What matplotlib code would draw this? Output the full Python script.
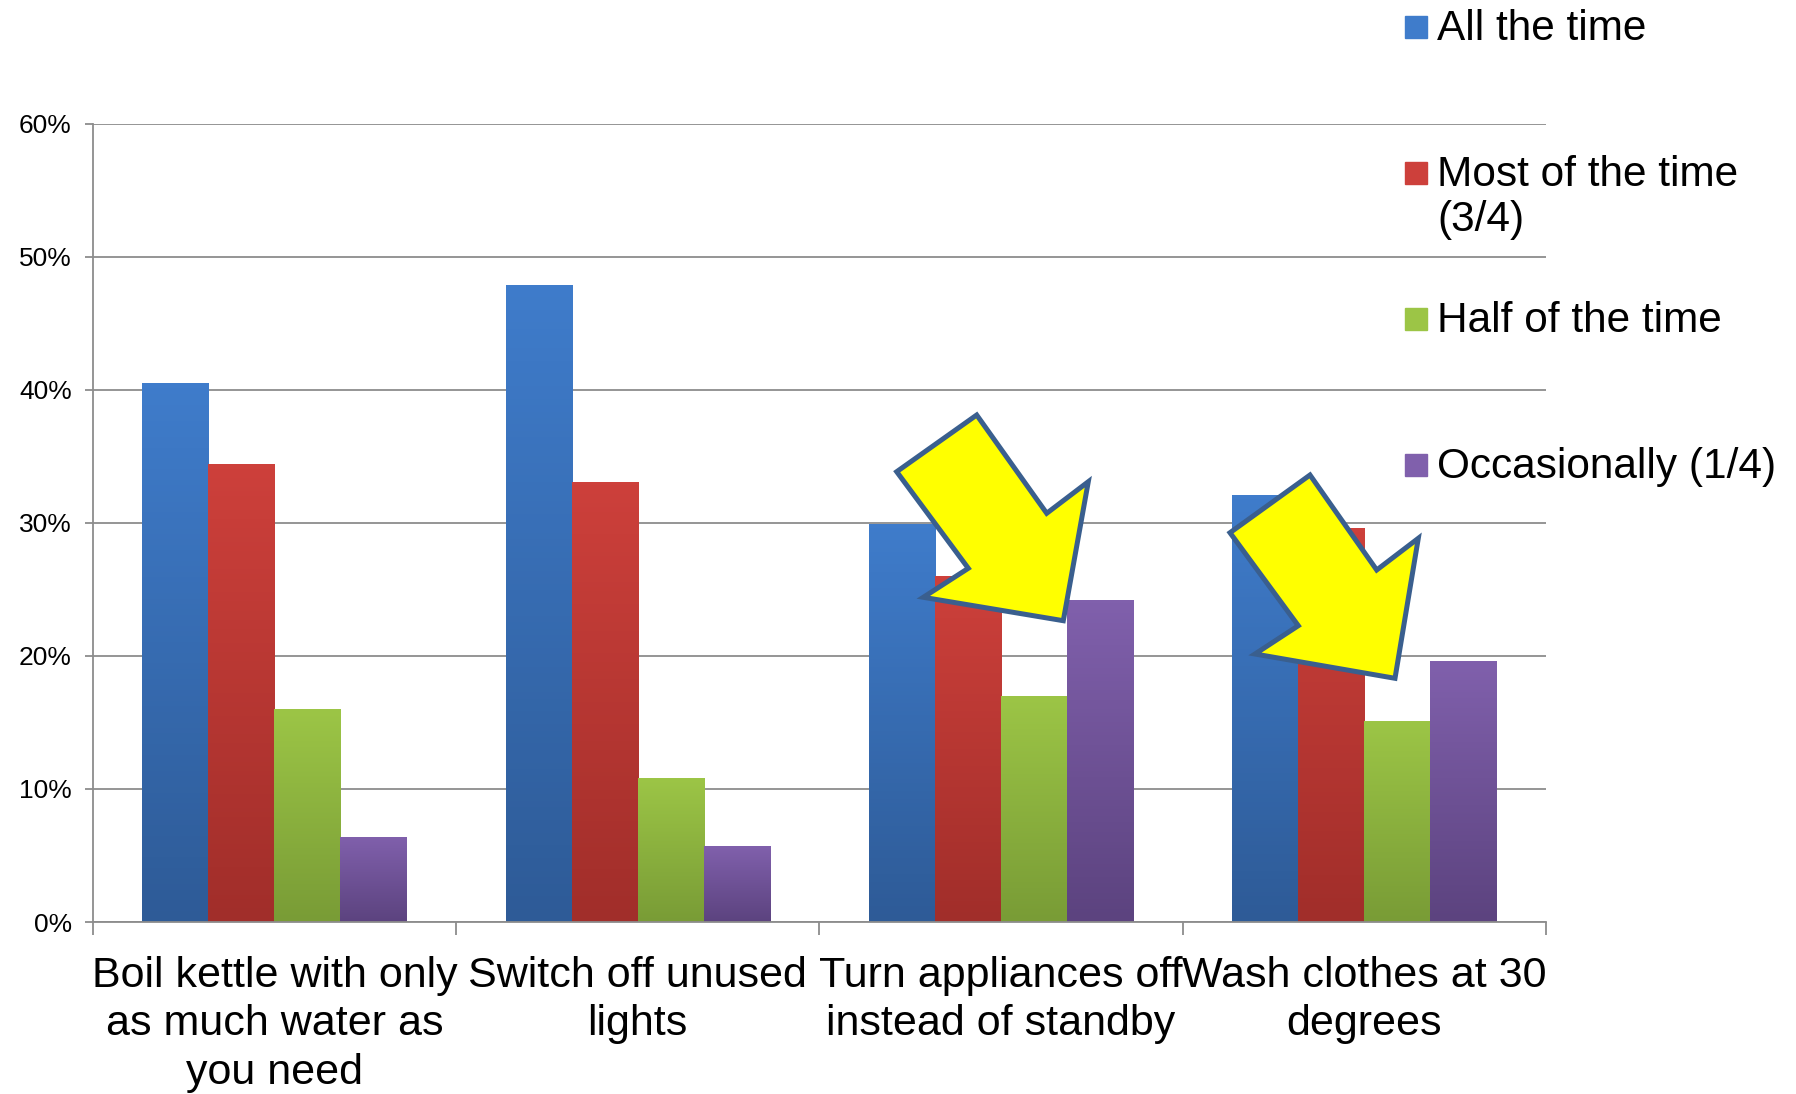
import numpy as np
import matplotlib
matplotlib.use("Agg")
import matplotlib.pyplot as plt
from matplotlib.colors import LinearSegmentedColormap
from matplotlib.patches import Polygon, Rectangle

plt.rcParams['font.family'] = ['Liberation Sans', 'DejaVu Sans']

# data (percent)
categories = ['Boil kettle with only\nas much water as\nyou need',
              'Switch off unused\nlights',
              'Turn appliances off\ninstead of standby',
              'Wash clothes at 30\ndegrees']
series_names = ['All the time', 'Most of the time\n(3/4)', 'Half of the time', 'Occasionally (1/4)']
all_time = [40.5, 47.9, 29.9, 32.1]
most_time = [34.4, 33.1, 26.0, 29.6]
half_time = [16.0, 10.8, 17.0, 15.1]
occasionally = [6.4, 5.7, 24.2, 19.6]
yticks = [0, 10, 20, 30, 40, 50, 60]

values = [all_time, most_time, half_time, occasionally]
# (top colour, bottom colour) for the excel-like gradient
grad_colors = [('#3F7CCB', '#2E5B97'),
               ('#CD403B', '#A12E2A'),
               ('#9CC546', '#799C36'),
               ('#8060AC', '#5C437F')]

W, H = 1796, 1094
fig = plt.figure(figsize=(W / 100, H / 100), dpi=100)
ax = fig.add_axes([92.7 / W, 1 - 922 / H, (1546 - 92.7) / W, (922 - 124) / H])

x = np.arange(len(categories))
n = len(values)
bw = 1 / (n + 1.5)
offsets = (np.arange(n) - (n - 1) / 2) * bw

for i, vals in enumerate(values):
    bars = ax.bar(x + offsets[i], vals, width=bw, color=grad_colors[i][0],
                  linewidth=0, zorder=2)
    cmap = LinearSegmentedColormap.from_list('g%d' % i, [grad_colors[i][1], grad_colors[i][0]])
    grad = np.linspace(0, 1, 100).reshape(-1, 1)
    for b in bars:
        bx, by = b.get_x(), b.get_y()
        im = ax.imshow(grad, cmap=cmap, origin='lower', aspect='auto', zorder=2.5,
                       extent=[bx, bx + b.get_width(), by, by + b.get_height()])
        im.set_clip_path(b)

ax.set_xlim(-0.5, len(categories) - 0.5)
ax.set_ylim(0, 60)
ax.set_yticks(yticks)
ax.set_yticklabels(['%d%%' % t for t in yticks], fontsize=19)
ax.set_xticks(x)
ax.set_xticklabels(categories, fontsize=31, linespacing=1.27)
ax.set_xticks(np.arange(len(categories) + 1) - 0.5, minor=True)
ax.tick_params(axis='x', which='major', length=0, pad=24.5)
ax.tick_params(axis='x', which='minor', length=9, width=1.3, color='#8C8C8C')
ax.tick_params(axis='y', length=6, width=1.3, color='#8C8C8C', pad=9)
ax.yaxis.grid(True, color='#8C8C8C', linewidth=1.3, zorder=0)
ax.set_axisbelow(True)
for s in ['top', 'right']:
    ax.spines[s].set_visible(False)
for s in ['left', 'bottom']:
    ax.spines[s].set_color('#8C8C8C')
    ax.spines[s].set_linewidth(1.3)

# overlay in pixel coordinates for the legend and the arrows
ov = fig.add_axes([0, 0, 1, 1])
ov.set_xlim(0, W)
ov.set_ylim(H, 0)
ov.axis('off')
ov.patch.set_alpha(0)

leg_y = [27, 173, 319, 465]
for i, name in enumerate(series_names):
    ov.add_patch(Rectangle((1405, leg_y[i] - 11), 22, 22, color=grad_colors[i][0]))
    ov.text(1437, leg_y[i] - 18, name, fontsize=30.5, va='top', ha='left',
            linespacing=1.15)

arrows = [
    [(976.7, 415), (1046.7, 513.3), (1088.3, 481.7), (1063.3, 620.7),
     (923.3, 597.3), (968.3, 568.3), (896.7, 471.7)],
    [(1310, 475), (1376.7, 570), (1418.3, 538.3), (1395, 678.3),
     (1255, 654), (1298.3, 625.7), (1230, 532.7)],
]
for pts in arrows:
    ov.add_patch(Polygon(pts, closed=True, facecolor='#FFFF00',
                         edgecolor='#3A5F8E', linewidth=3.6, joinstyle='miter'))

fig.savefig('out.png', dpi=100)
